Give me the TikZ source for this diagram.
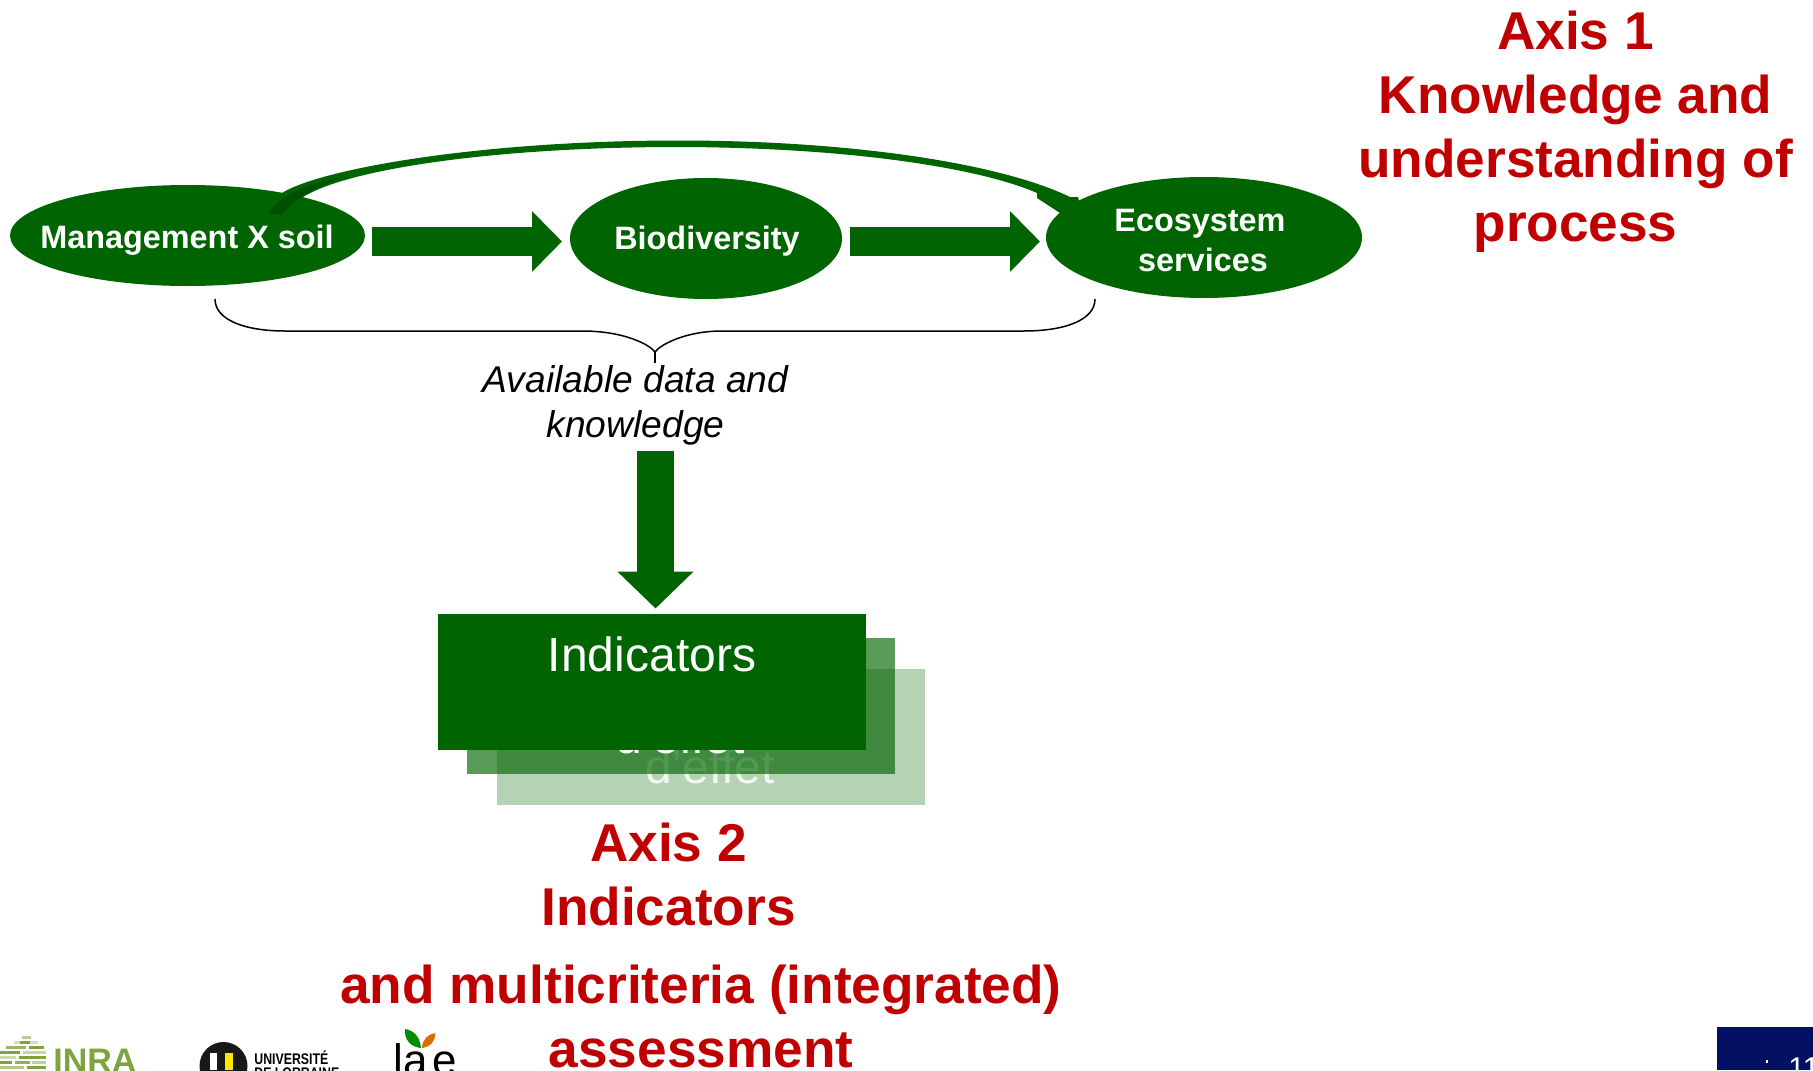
\documentclass[tikz,border=0pt]{standalone}
\usepackage{fontspec}
\usepackage{graphicx}
\setmainfont{Liberation Sans}
\usetikzlibrary{shapes.geometric,arrows.meta,calc}
\definecolor{forest}{RGB}{0,100,0}
\definecolor{forestdark}{RGB}{0,78,0}
\definecolor{axisred}{RGB}{192,0,0}
\definecolor{inragreen}{RGB}{127,163,62}
\definecolor{pagenavy}{RGB}{4,16,97}
\tikzset{
  soft/.style={ellipse,fill=forest,inner sep=0pt,outer sep=0pt},
  softtext/.style={text=white,inner sep=0pt,align=center,font=\fontsize{16.2}{20}\selectfont\bfseries},
  bigarrow/.style={draw=forest,line width=14.5pt,-{Triangle[length=15pt,width=29.5pt]}},
  axislabel/.style={text=axisred,align=center,inner sep=0pt,
    font=\fontsize{26.6}{32}\selectfont\bfseries},
  sheet/.style={minimum width=214pt,minimum height=68pt,inner sep=0pt,outer sep=0pt,fill=forest},
  sheettext/.style={text=white,inner sep=0pt,font=\fontsize{24}{28}\selectfont},
}
\begin{document}
\begin{tikzpicture}[x=0.5pt,y=-0.5pt]
\useasboundingbox (0,0) rectangle (1813,1070);
\clip (0,0) rectangle (1813,1070);
% stacked sheets
\node[sheet,fill opacity=.29] (back) at (711,737) {};
\node[sheettext,anchor=base,text opacity=.8] (backtxt) at (710,783) {d’effet};
\node[sheet,fill opacity=.65] (mid) at (680.5,706) {};
\node[sheettext,anchor=base] (midtxt) at (680,753) {d’effet};
\node[sheet] (top) at (652,682) {};
\node[sheettext] (ind) at (652,654) {Indicators};
% ellipses
\node[soft,minimum width=177.5pt,minimum height=50.5pt] (m) at (187.5,235.5) {};
\node[softtext] (mt) at (187,240) {Management X soil};
\node[soft,minimum width=136pt,minimum height=60.5pt] (b) at (706,238.5) {};
\node[softtext] (bt) at (707,241.5) {Biodiversity};
\node[soft,minimum width=158pt,minimum height=60.5pt] (e) at (1204,237.5) {};
\node[softtext] (et) at (1203,241) {Ecosystem\hbox to 3pt{}\\services};
% block arrows
\draw[bigarrow] ($(m.east)+(7,6)$) -- ($(b.west)+(-8,3)$);
\draw[bigarrow] ($(b.east)+(8,3)$) -- ($(e.west)+(-6,4)$);
% curved arrow
\coordinate (cs1) at ($(m.center)+(94.5,-42.5)$);
\coordinate (cs2) at ($(m.center)+(115.5,-38.5)$);
\coordinate (ce1) at ($(e.center)+(-134,-40.5)$);
\coordinate (ce2) at ($(e.center)+(-167,-44.5)$);
\fill[forest] (cs1) .. controls (320,169) and (480,140.5) .. (679,140.5)
   .. controls (850,140.5) and (1000,163) .. (ce1) -- (1078,197) -- (1085,225) -- (1060,213) -- (1037,198)
   -- (ce2) .. controls (980,168) and (850,147.5) .. (679,147)
   .. controls (500,147) and (350,168) .. (cs2) -- cycle;
\fill[forestdark] (268,214) .. controls (280,195) and (305,185) .. (343,177)
   .. controls (315,188) and (295,198) .. (282,214) -- cycle;
% brace
\coordinate (bl) at (215,299);
\coordinate (br) at (1095,299);
\coordinate (btip) at (655,363);
\draw[black,line width=.75pt] (bl) .. controls (215,320) and (245,331) .. (285,331) -- (582,331)
   .. controls (625,331) and (650,345) .. (655,352) .. controls (660,345) and (685,331) .. (722,331)
   -- (1024,331) .. controls (1065,331) and (1095,320) .. (br);
\draw[black,line width=.75pt] (655,352) -- (btip);
\node[inner sep=0pt,align=center,font=\fontsize{18.6}{22.5}\selectfont\itshape] (avail) at (635.5,405.5) {Available data and\\knowledge};
% down arrow
\coordinate (ds) at (655.5,451);
\draw[bigarrow,line width=18.5pt,-{Triangle[length=18.5pt,width=37pt]}] (ds) -- ($(top.north)+(3.5,-5.5)$);
% axis labels
\node[axislabel] (axis1) at (1575.5,131.5) {Axis 1\\Knowledge and\\understanding of\\process};
\node[axislabel] (axis2) at (668.5,874) {Axis 2\\Indicators};
\node[axislabel] (axis3) at (701,1016) {and multicriteria (integrated)\\assessment};
% INRA logo
\foreach \yy/\xa/\xb/\cc in {
 1036/22/31/inragreen!55,1041/14/38/inragreen!35,1041/20/30/inragreen,
 1046/6/26/inragreen!80,1046/29/44/inragreen,1051/0/20/inragreen,1051/23/46/inragreen!45,
 1056/0/16/inragreen!40,1056/19/46/inragreen,1061/0/12/inragreen,1061/15/30/inragreen!85,1061/32/46/inragreen!50,
 1066/0/24/inragreen!60,1066/27/46/inragreen}{
  \fill[\cc] (\xa,\yy) rectangle (\xb,\yy+2.6);
}
\node[anchor=base west,inner sep=0pt,text=inragreen,font=\fontsize{17}{20}\selectfont\bfseries] (inra) at (53,1072) {INRA};
% Universite logo
\fill[black!90] (223.5,1066) circle (24);
\fill[white] (210,1053) rectangle (217,1070);
\fill[yellow!90!orange] (225,1053) rectangle (233,1070);
\node[anchor=base west,inner sep=0pt,font=\fontsize{7.7}{9}\selectfont\bfseries] (ul1) at (254,1064) {\scalebox{.8}[1]{UNIVERSITÉ}};
\node[anchor=base west,inner sep=0pt,font=\fontsize{7.7}{9}\selectfont\bfseries] (ul2) at (254,1078) {\scalebox{.8}[1]{DE LORRAINE}};
% LAE logo
\fill[green!55!black] (421,1048) .. controls (420,1035) and (412,1030) .. (405,1029) .. controls (404,1040) and (411,1047) .. (421,1048) -- cycle;
\fill[orange!85!black] (422,1048) .. controls (422,1040) and (428,1034) .. (435,1033) .. controls (436,1041) and (430,1047) .. (422,1048) -- cycle;
\node[anchor=base west,inner sep=0pt,font=\fontsize{22}{24}\selectfont] (lae) at (393,1075) {la\kern2.5pt e};
% page number
\fill[pagenavy] (1717,1027) rectangle (1813,1070);
\fill[white] (1766,1060) rectangle (1768,1063);
\node[anchor=base west,inner sep=0pt,text=white,font=\fontsize{15}{18}\selectfont] (page) at (1788,1078) {11};
\end{tikzpicture}
\end{document}
